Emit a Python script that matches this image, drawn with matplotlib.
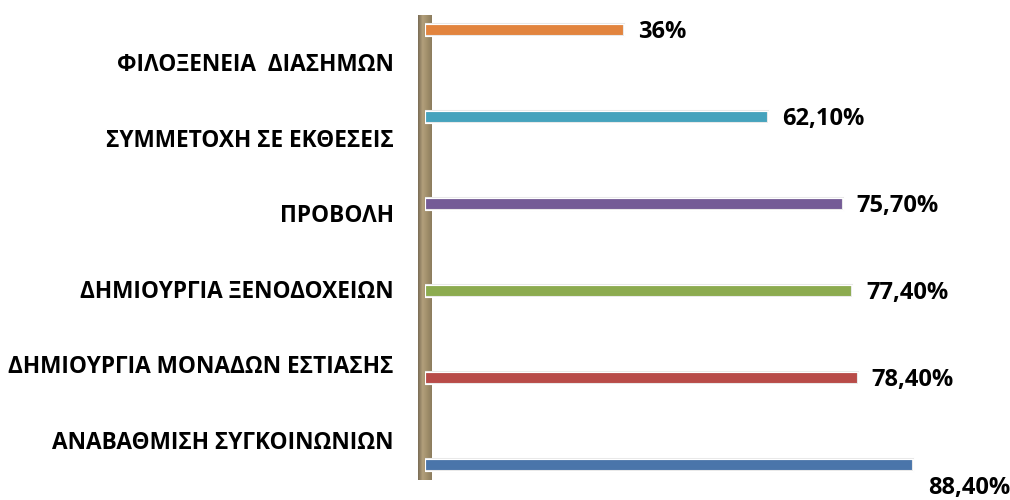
import matplotlib
matplotlib.use("Agg")
import matplotlib.pyplot as plt
import numpy as np
from matplotlib.colors import LinearSegmentedColormap

plt.rcParams['font.family'] = ['Open Sans', 'DejaVu Sans']

categories = ["ΑΝΑΒΑΘΜΙΣΗ ΣΥΓΚΟΙΝΩΝΙΩΝ", "ΔΗΜΙΟΥΡΓΙΑ ΜΟΝΑΔΩΝ ΕΣΤΙΑΣΗΣ",
              "ΔΗΜΙΟΥΡΓΙΑ ΞΕΝΟΔΟΧΕΙΩΝ", "ΠΡΟΒΟΛΗ", "ΣΥΜΜΕΤΟΧΗ ΣΕ ΕΚΘΕΣΕΙΣ",
              "ΦΙΛΟΞΕΝΕΙΑ  ΔΙΑΣΗΜΩΝ"]
values = [88.4, 78.4, 77.4, 75.7, 62.1, 36.0]
value_labels = ["88,40%", "78,40%", "77,40%", "75,70%", "62,10%", "36%"]
colors = ["#4a75aa", "#b84b48", "#8cab4f", "#745b96", "#46a3bd", "#e2843e"]

W, H = 1010, 500
fig = plt.figure(figsize=(W / 100, H / 100), dpi=100)

# wall (3D-like)
wall_ax = fig.add_axes([418 / W, (H - 480) / H, 14 / W, 465 / H])
grad = np.linspace(0, 1, 50).reshape(1, -1)
cmap = LinearSegmentedColormap.from_list("wall", ["#7a6c55", "#b3a07c", "#a08e6a", "#8c7c5e"])
wall_ax.imshow(grad, aspect='auto', cmap=cmap, extent=[0, 1, 0, 1])
wall_ax.axis('off')

# main bars axes
ax = fig.add_axes([425 / W, (H - 480) / H, 552 / W, 465 / H])
ax.set_xlim(0, 100)
half = 465 / 87 / 2
y = np.arange(len(values))
ax.set_ylim(2.5 - half, 2.5 + half)
ax.barh(y, values, height=0.14, color=colors, edgecolor="#e8e8e8", linewidth=1.5)
ax.barh(y, values, height=0.14, color='none', edgecolor="white", linewidth=0.8)
ax.axis('off')

for i, (v, lab) in enumerate(zip(values, value_labels)):
    if i == 0:
        off = (15, -23)
    else:
        off = (14, -2)
    ax.annotate(lab, xy=(v, i), xytext=off, textcoords='offset pixels',
                ha='left', va='center', fontsize=17, fontweight='bold', color='black')

# category labels axis
lab_ax = fig.add_axes([398 / W, (H - 477.8) / H, 0.001, 453.6 / H])
lab_ax.set_ylim(-0.5, len(categories) - 0.5)
lab_ax.set_yticks(y)
lab_ax.set_yticklabels(categories, fontsize=16.3, fontweight='bold')
lab_ax.tick_params(axis='y', length=0, pad=3)
lab_ax.set_xticks([])
for s in lab_ax.spines.values():
    s.set_visible(False)
lab_ax.patch.set_visible(False)

fig.savefig("out.png", dpi=100)
